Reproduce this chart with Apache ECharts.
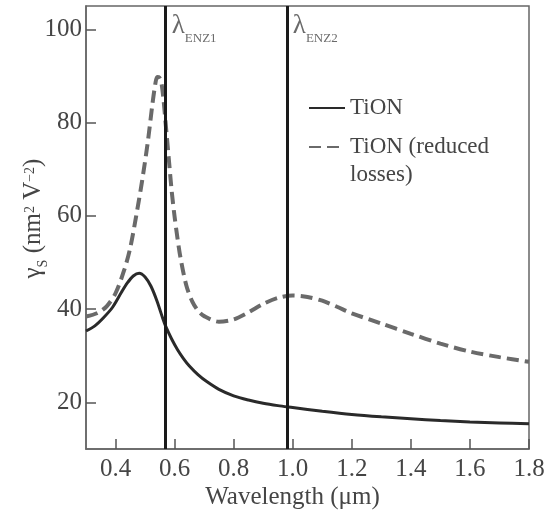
<!DOCTYPE html>
<html><head><meta charset="utf-8">
<script src="https://cdn.jsdelivr.net/npm/echarts@6/dist/echarts.min.js"></script>
<style>html,body{margin:0;padding:0;background:#fff}#c{width:557px;height:519px}</style>
</head><body><div id="c"></div>
<script>
// ---- data ----
const xTicks = [0.4, 0.6, 0.8, 1.0, 1.2, 1.4, 1.6, 1.8];
const yTicks = [20, 40, 60, 80, 100];
const tionX = [0.30,0.33,0.36,0.39,0.42,0.44,0.46,0.48,0.50,0.52,0.54,0.56,0.57,0.59,0.61,0.63,0.65,0.68,0.71,0.75,0.80,0.85,0.90,0.95,1.00,1.10,1.20,1.30,1.40,1.50,1.60,1.70,1.80];
const tionY = [35.3,36.4,38.2,40.4,43.6,45.6,47.1,47.7,46.9,44.9,41.8,38.0,36.3,33.6,31.3,29.4,27.8,25.9,24.4,22.8,21.4,20.5,19.8,19.3,18.9,18.1,17.4,16.9,16.5,16.1,15.8,15.6,15.4];
const redX = [0.30,0.34,0.37,0.40,0.43,0.45,0.47,0.49,0.51,0.525,0.535,0.541,0.548,0.555,0.562,0.57,0.58,0.59,0.60,0.61,0.62,0.64,0.66,0.68,0.70,0.75,0.80,0.85,0.90,0.95,1.00,1.05,1.10,1.15,1.20,1.30,1.40,1.50,1.60,1.70,1.80];
const redY = [38.4,39.2,40.6,43.4,48.5,53.2,60.0,67.5,76.2,84.0,88.4,89.8,89.7,88.6,85.2,79.6,72.5,65.4,59.8,55.1,51.0,45.0,41.6,39.6,38.5,37.3,37.8,39.3,41.1,42.4,42.9,42.6,41.8,40.5,39.1,36.9,34.7,32.6,30.9,29.7,28.7];
const lambdaENZ = [0.57, 0.98];
const lambdaNames = ['ENZ1', 'ENZ2'];
const seriesNames = ['TiON', 'TiON (reduced losses)'];

const F = "'Liberation Serif', 'Times New Roman', serif";
const txt = '#454545';
const zip = (xs, ys) => xs.map((x, i) => [x, ys[i]]);

const legendBase = {
  orient: 'vertical', left: 308, padding: 0, itemWidth: 36, itemHeight: 14,
  itemStyle: {opacity: 0},
  textStyle: {fontFamily: F, fontSize: 23, color: txt, lineHeight: 28}
};

const chart = echarts.init(document.getElementById('c'));
chart.setOption({
  animation: false,
  grid: {left: 86, top: 6, right: 28, bottom: 70, show: true, borderColor: '#666', borderWidth: 1.5},
  legend: [
    Object.assign({}, legendBase, {data: [seriesNames[0]], top: 94}),
    Object.assign({}, legendBase, {data: [seriesNames[1]], top: 105,
      formatter: () => '\nTiON (reduced\nlosses)'})
  ],
  xAxis: {
    type: 'value', min: 0.3, max: 1.8,
    name: 'Wavelength (μm)', nameLocation: 'middle', nameGap: 36, nameMoveOverlap: false,
    nameTextStyle: {fontFamily: F, fontSize: 25, color: txt, padding: [0, 30, 0, 0]},
    axisLine: {show: true, lineStyle: {color: '#666', width: 1.5}},
    axisTick: {show: true, inside: true, length: 10, customValues: xTicks, lineStyle: {color: '#555', width: 1.5}},
    axisLabel: {customValues: xTicks, margin: 8, fontFamily: F, fontSize: 25, color: txt, formatter: v => v.toFixed(1)},
    splitLine: {show: false}
  },
  yAxis: {
    type: 'value', min: 10, max: 105,
    name: '{g|γ}{s|S}{n| (nm}{p|2}{n| V}{p|−2}{n|)}', nameLocation: 'middle', nameGap: 40, nameMoveOverlap: false,
    nameTextStyle: {
      fontFamily: F, fontSize: 25, color: txt, padding: [0, 0, 0, 18],
      rich: {
        g: {fontFamily: F, fontSize: 25, color: txt},
        s: {fontFamily: F, fontSize: 14, color: txt, verticalAlign: 'bottom', padding: [0, 0, -4, 0]},
        n: {fontFamily: F, fontSize: 25, color: txt},
        p: {fontFamily: F, fontSize: 14, color: txt, verticalAlign: 'top', padding: [2, 0, 0, 0]}
      }
    },
    axisLine: {show: true, lineStyle: {color: '#666', width: 1.5}},
    axisTick: {show: true, inside: true, length: 10, customValues: yTicks, lineStyle: {color: '#555', width: 1.5}},
    axisLabel: {customValues: yTicks, margin: 4, fontFamily: F, fontSize: 25, color: txt},
    splitLine: {show: false}
  },
  series: [
    {
      name: seriesNames[0], type: 'line', data: zip(tionX, tionY), smooth: 0.3,
      showSymbol: false, symbol: 'none',
      lineStyle: {color: '#2a2a2a', width: 3}, itemStyle: {color: '#2a2a2a'},
      markLine: {
        silent: true, symbol: ['none', 'none'], label: {show: false},
        lineStyle: {type: 'solid', color: '#1a1a1a', width: 3},
        data: lambdaENZ.map(v => ({xAxis: v}))
      }
    },
    {
      name: seriesNames[1], type: 'line', data: zip(redX, redY), smooth: 0.3,
      showSymbol: false, symbol: 'none',
      lineStyle: {color: '#6a6a6a', width: 4, type: [12, 6]}, itemStyle: {color: '#6a6a6a'}
    },
    {
      name: 'lambda', type: 'scatter', symbolSize: 0, silent: true,
      data: lambdaENZ.map((v, i) => ({value: [v, 100.8], name: lambdaNames[i]})),
      label: {
        show: true, position: 'right', distance: 6,
        formatter: p => '{a|λ}{b|' + p.name + '}',
        rich: {
          a: {fontFamily: F, fontSize: 27, color: txt},
          b: {fontFamily: F, fontSize: 13, color: txt, verticalAlign: 'bottom', padding: [0, 0, -6, 0]}
        }
      }
    }
  ]
});
</script></body></html>
